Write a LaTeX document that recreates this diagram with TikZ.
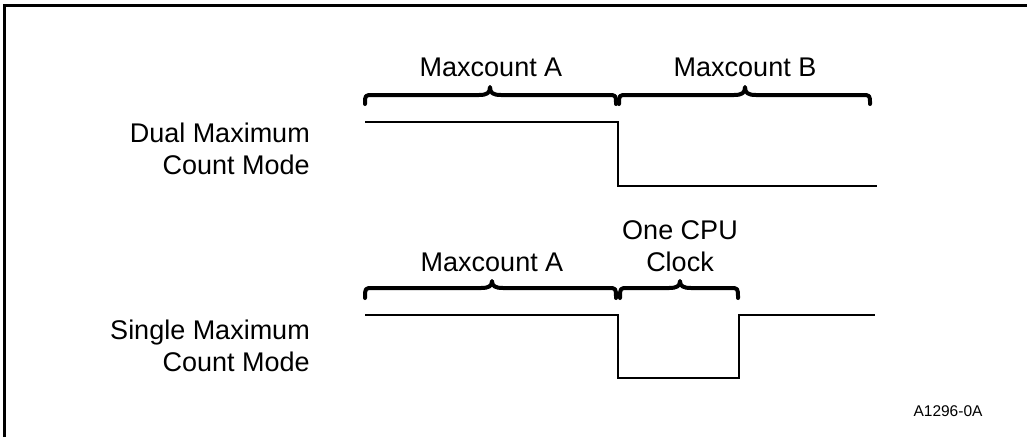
\documentclass[tikz,border=0pt]{standalone}
\usepackage{fontspec}
\setmainfont{Liberation Sans}
\begin{document}
\begin{tikzpicture}[x=1pt,y=-1pt,
  lbl/.style={font=\fontsize{27}{32}\selectfont, inner sep=0pt, align=center},
  side/.style={font=\fontsize{27}{32}\selectfont, inner sep=0pt, align=right, anchor=east},
  wave/.style={line width=2pt, line join=miter},
  brc/.style={line width=4pt, line cap=round, line join=round},
  frame/.style={line width=3pt}]
\useasboundingbox (0,0) rectangle (1027,437);
\draw[frame] (4.5,437) -- (4.5,5.5) -- (1027,5.5);
% labels
\node[lbl] (ma1) at (491,67) {Maxcount A};
\node[lbl] (mb) at (745,67) {Maxcount B};
\node[side] (dual) at (310,149) {Dual Maximum\\Count Mode};
\node[lbl] (cpu) at (680,246) {One CPU\\Clock};
\node[lbl] (ma2) at (492,262) {Maxcount A};
\node[side] (single) at (310,346) {Single Maximum\\Count Mode};
\node[font=\fontsize{15.5}{18}\selectfont, inner sep=0pt] (id) at (948,411) {A1296-0A};
% braces: x1 xm x2 ytip ybar ycusp
\def\brace#1#2#3#4#5#6{%
  \draw[brc] (#1,#4) .. controls (#1,#5) .. (#1+8,#5) -- (#2-11,#5)
     .. controls (#2-3,#5) and (#2,#5-2) .. (#2,#6)
     .. controls (#2,#5-2) and (#2+3,#5) .. (#2+11,#5) -- (#3-8,#5) .. controls (#3,#5) .. (#3,#4);}
\brace{365}{490}{616}{104}{95}{87}
\brace{619}{745}{870}{104}{95}{87}
\brace{365}{492}{616}{298}{288}{281}
\brace{620}{680}{738}{298}{288}{281}
% waveforms
\coordinate (d0) at (365,122);
\coordinate (d1) at (618,122);
\coordinate (d2) at (618,186);
\coordinate (d3) at (877,186);
\draw[wave] (d0) -- (d1) -- (d2) -- (d3);
\coordinate (s0) at (365,315);
\coordinate (s1) at (618,315);
\coordinate (s2) at (618,378);
\coordinate (s3) at (739,378);
\coordinate (s4) at (739,315);
\coordinate (s5) at (875,315);
\draw[wave] (s0) -- (s1) -- (s2) -- (s3) -- (s4) -- (s5);
\end{tikzpicture}
\end{document}
